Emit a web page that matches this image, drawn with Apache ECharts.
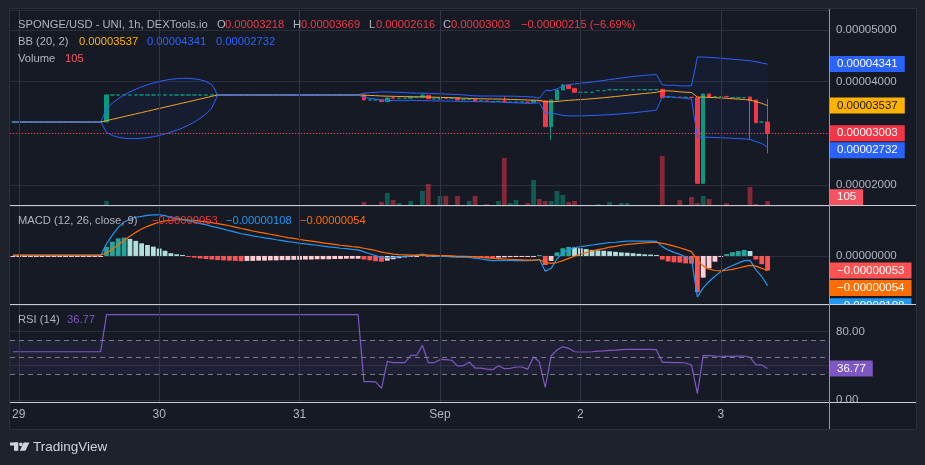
<!DOCTYPE html>
<html>
<head>
<meta charset="utf-8">
<title>SPONGE/USD 1h</title>
<script src="https://cdn.jsdelivr.net/npm/echarts@6/dist/echarts.min.js"></script>
<style>
  html, body { margin: 0; padding: 0; background: #1e222d; }
  #chart { width: 925px; height: 465px; }
</style>
</head>
<body>
<div id="chart"></div>
<script>
// prices, bands and MACD values are in units of 1e-8 USD (3003 = 0.00003003)
// one slot per hour, slot 0 = 28 Aug 23:00, last candle = 3 Sep 08:00
const hours = Array.from({ length: 140 }, (_, i) => 'h' + i);
const dayIndex = [1, 25, 49, 73, 97, 121];
const dayLabels = ['29', '30', '31', 'Sep', '2', '3'];

const open = [
  3220, 3220, 3220, 3220, 3220, 3220, 3220, 3220, 3220, 3220,
  3220, 3220, 3220, 3220, 3220, 3220, 3220, 3743, 3743, 3743,
  3743, 3743, 3743, 3743, 3743, 3743, 3743, 3743, 3743, 3743,
  3743, 3743, 3743, 3743, 3743, 3743, 3743, 3743, 3743, 3743,
  3743, 3743, 3743, 3743, 3743, 3743, 3743, 3743, 3743, 3743,
  3743, 3743, 3743, 3743, 3743, 3743, 3743, 3743, 3743, 3743,
  3743, 3646, 3646, 3650, 3613, 3685, 3678, 3678, 3680, 3700,
  3700, 3735, 3668, 3660, 3690, 3680, 3685, 3650, 3655, 3660,
  3628, 3628, 3610, 3620, 3625, 3605, 3605, 3605, 3605, 3600,
  3640, 3630, 3129, 3646, 3839, 3936, 3870, 3795, 3795, 3795,
  3826, 3826, 3845, 3845, 3845, 3845, 3845, 3845, 3845, 3845,
  3845, 3853, 3698, 3698, 3699, 3698, 3699, 3690, 2033, 3762,
  3710, 3710, 3715, 3688, 3690, 3690, 3704, 3646, 3218, 3218
];
const high = [
  3220, 3220, 3220, 3220, 3220, 3220, 3220, 3220, 3220, 3220,
  3220, 3220, 3220, 3220, 3220, 3220, 3760, 3743, 3743, 3743,
  3743, 3743, 3743, 3743, 3743, 3743, 3743, 3743, 3743, 3743,
  3743, 3743, 3743, 3743, 3743, 3743, 3743, 3743, 3743, 3743,
  3743, 3743, 3743, 3743, 3743, 3743, 3743, 3743, 3743, 3743,
  3743, 3743, 3743, 3743, 3743, 3743, 3743, 3743, 3743, 3743,
  3743, 3646, 3646, 3650, 3690, 3710, 3678, 3678, 3729, 3700,
  3781, 3735, 3668, 3690, 3700, 3680, 3685, 3650, 3655, 3660,
  3628, 3628, 3612, 3620, 3720, 3605, 3605, 3605, 3605, 3640,
  3640, 3630, 3646, 3839, 3955, 3936, 3870, 3795, 3795, 3795,
  3826, 3826, 3845, 3845, 3845, 3845, 3845, 3845, 3845, 3845,
  3845, 3853, 3698, 3698, 3699, 3698, 3699, 3690, 3762, 3762,
  3710, 3710, 3715, 3690, 3690, 3690, 3704, 3646, 3218, 3669
];
const low = [
  3220, 3220, 3220, 3220, 3220, 3220, 3220, 3220, 3220, 3220,
  3220, 3220, 3220, 3220, 3220, 3220, 3220, 3743, 3743, 3743,
  3743, 3743, 3743, 3743, 3743, 3743, 3743, 3743, 3743, 3743,
  3743, 3743, 3743, 3743, 3743, 3743, 3743, 3743, 3743, 3743,
  3743, 3743, 3743, 3743, 3743, 3743, 3743, 3743, 3743, 3743,
  3743, 3743, 3743, 3743, 3743, 3743, 3743, 3743, 3743, 3743,
  3646, 3646, 3646, 3613, 3613, 3678, 3678, 3678, 3680, 3700,
  3700, 3668, 3668, 3660, 3680, 3680, 3645, 3650, 3655, 3620,
  3628, 3620, 3610, 3620, 3605, 3605, 3605, 3605, 3600, 3600,
  3630, 3129, 2870, 3646, 3839, 3865, 3795, 3795, 3795, 3795,
  3826, 3826, 3845, 3845, 3845, 3845, 3845, 3845, 3845, 3845,
  3845, 3690, 3698, 3698, 3697, 3698, 3690, 2033, 2033, 3704,
  3710, 3710, 3705, 3688, 3690, 3690, 2885, 3206, 3218, 2616
];
const close = [
  3220, 3220, 3220, 3220, 3220, 3220, 3220, 3220, 3220, 3220,
  3220, 3220, 3220, 3220, 3220, 3220, 3743, 3743, 3743, 3743,
  3743, 3743, 3743, 3743, 3743, 3743, 3743, 3743, 3743, 3743,
  3743, 3743, 3743, 3743, 3743, 3743, 3743, 3743, 3743, 3743,
  3743, 3743, 3743, 3743, 3743, 3743, 3743, 3743, 3743, 3743,
  3743, 3743, 3743, 3743, 3743, 3743, 3743, 3743, 3743, 3743,
  3646, 3646, 3646, 3613, 3684, 3678, 3678, 3678, 3700, 3700,
  3735, 3668, 3668, 3690, 3680, 3680, 3645, 3650, 3655, 3620,
  3628, 3620, 3612, 3620, 3605, 3605, 3605, 3605, 3600, 3640,
  3630, 3129, 3646, 3839, 3936, 3865, 3795, 3795, 3795, 3795,
  3826, 3826, 3845, 3845, 3845, 3845, 3845, 3845, 3845, 3845,
  3845, 3690, 3698, 3698, 3697, 3698, 3690, 2033, 3762, 3704,
  3710, 3710, 3705, 3690, 3690, 3690, 3632, 3206, 3218, 3003
];
const volume = [
  0, 0, 0, 0, 0, 0, 0, 0, 0, 0,
  0, 0, 0, 0, 0, 0, 105, 0, 0, 0,
  0, 0, 0, 0, 0, 0, 0, 0, 0, 0,
  0, 0, 0, 0, 0, 0, 0, 0, 0, 0,
  0, 0, 0, 0, 0, 0, 0, 0, 0, 0,
  0, 0, 0, 0, 0, 0, 0, 0, 0, 0,
  78, 0, 0, 78, 314, 130, 52, 0, 105, 0,
  366, 549, 0, 235, 235, 0, 235, 0, 105, 235,
  0, 26, 0, 105, 1229, 52, 130, 0, 52, 654,
  157, 105, 105, 366, 262, 78, 105, 0, 0, 0,
  26, 0, 78, 0, 52, 52, 0, 0, 0, 0,
  0, 1281, 0, 0, 130, 0, 209, 52, 235, 157,
  0, 0, 52, 0, 0, 0, 471, 26, 0, 105
];

// Bollinger Bands (20, 2)
const bbUpper = [
  3220, 3220, 3220, 3220, 3220, 3220, 3220, 3220, 3220, 3220,
  3220, 3220, 3220, 3220, 3220, 3220, 3474, 3586, 3672, 3743,
  3804, 3856, 3902, 3941, 3975, 4005, 4028, 4046, 4059, 4065,
  4065, 4056, 4038, 4005, 3945, 3743, 3743, 3743, 3743, 3743,
  3743, 3743, 3743, 3743, 3743, 3743, 3743, 3743, 3743, 3743,
  3743, 3743, 3743, 3743, 3743, 3743, 3743, 3743, 3743, 3743,
  3780, 3788, 3793, 3803, 3802, 3799, 3794, 3789, 3783, 3779,
  3778, 3775, 3771, 3766, 3761, 3756, 3751, 3746, 3734, 3725,
  3723, 3723, 3723, 3721, 3721, 3719, 3718, 3714, 3709, 3702,
  3681, 3832, 3829, 3861, 3914, 3942, 3957, 3970, 3981, 3994,
  4010, 4024, 4042, 4057, 4073, 4087, 4101, 4113, 4123, 4131,
  4138, 3940, 3929, 3934, 3920, 3917, 3919, 4479, 4477, 4471,
  4463, 4455, 4446, 4436, 4427, 4417, 4407, 4387, 4362, 4341
];
const bbBasis = [
  3220, 3220, 3220, 3220, 3220, 3220, 3220, 3220, 3220, 3220,
  3220, 3220, 3220, 3220, 3220, 3220, 3246, 3272, 3298, 3325,
  3351, 3377, 3403, 3429, 3455, 3482, 3508, 3534, 3560, 3586,
  3612, 3638, 3665, 3691, 3717, 3743, 3743, 3743, 3743, 3743,
  3743, 3743, 3743, 3743, 3743, 3743, 3743, 3743, 3743, 3743,
  3743, 3743, 3743, 3743, 3743, 3743, 3743, 3743, 3743, 3743,
  3738, 3734, 3730, 3723, 3720, 3717, 3714, 3711, 3709, 3707,
  3706, 3703, 3699, 3696, 3693, 3690, 3685, 3680, 3676, 3670,
  3669, 3667, 3665, 3665, 3661, 3657, 3654, 3650, 3645, 3642,
  3637, 3610, 3609, 3617, 3630, 3639, 3647, 3654, 3661, 3670,
  3680, 3690, 3702, 3713, 3725, 3737, 3749, 3761, 3773, 3783,
  3794, 3821, 3823, 3816, 3804, 3796, 3791, 3703, 3701, 3697,
  3691, 3685, 3678, 3670, 3663, 3655, 3645, 3613, 3582, 3537
];
const bbLower = [
  3220, 3220, 3220, 3220, 3220, 3220, 3220, 3220, 3220, 3220,
  3220, 3220, 3220, 3220, 3220, 3220, 3018, 2958, 2925, 2906,
  2898, 2898, 2904, 2917, 2935, 2959, 2988, 3022, 3061, 3106,
  3159, 3220, 3291, 3377, 3489, 3743, 3743, 3743, 3743, 3743,
  3743, 3743, 3743, 3743, 3743, 3743, 3743, 3743, 3743, 3743,
  3743, 3743, 3743, 3743, 3743, 3743, 3743, 3743, 3743, 3743,
  3696, 3680, 3667, 3643, 3638, 3635, 3634, 3633, 3635, 3635,
  3634, 3631, 3627, 3626, 3625, 3624, 3619, 3614, 3618, 3615,
  3615, 3611, 3607, 3609, 3601, 3595, 3590, 3586, 3581, 3582,
  3593, 3388, 3389, 3373, 3346, 3336, 3337, 3338, 3341, 3346,
  3350, 3356, 3362, 3369, 3377, 3387, 3397, 3409, 3423, 3435,
  3450, 3702, 3718, 3698, 3688, 3675, 3663, 2927, 2925, 2923,
  2919, 2915, 2910, 2904, 2899, 2893, 2883, 2839, 2802, 2732
];

// MACD (12, 26, close, 9)
const macdLine = [
  2, 2, 2, 2, 2, 2, 2, 2, 2, 2,
  2, 2, 2, 2, 2, 2, 44, 76, 104, 124,
  134, 141, 144, 148, 150, 150, 147, 140, 138, 133,
  128, 124, 118, 114, 108, 103, 98, 92, 87, 81,
  78, 73, 70, 66, 63, 59, 56, 52, 50, 46,
  44, 41, 39, 36, 33, 31, 28, 27, 24, 22,
  15, 8, 1, -6, -7, -5, -3, -1, 0, 2,
  7, 0, -1, -2, -2, -3, -4, -4, -5, -8,
  -11, -14, -17, -16, -16, -16, -17, -17, -17, -16,
  -12, -56, -45, -11, 11, 24, 30, 34, 37, 40,
  43, 46, 49, 50, 52, 54, 54, 54, 54, 54,
  53, 34, 22, 13, 6, -4, -12, -149, -116, -93,
  -74, -57, -45, -35, -26, -17, -16, -50, -75, -108
];
const signalLine = [
  3, 3, 3, 3, 3, 3, 3, 3, 3, 3,
  3, 3, 3, 3, 3, 3, 11, 24, 40, 57,
  72, 86, 98, 108, 116, 123, 128, 130, 132, 132,
  131, 130, 127, 125, 121, 118, 114, 110, 105, 100,
  96, 91, 87, 83, 79, 75, 71, 67, 64, 60,
  57, 54, 51, 48, 45, 42, 39, 37, 34, 32,
  28, 24, 20, 14, 10, 7, 5, 4, 3, 3,
  4, 3, 2, 1, 1, 0, -1, -1, -2, -3,
  -5, -7, -9, -10, -11, -12, -13, -14, -15, -15,
  -14, -23, -27, -24, -17, -9, -1, 6, 12, 18,
  23, 27, 32, 35, 39, 42, 44, 46, 48, 49,
  50, 46, 41, 36, 30, 23, 16, -17, -37, -48,
  -53, -54, -52, -49, -44, -39, -34, -37, -45, -54
];
const macdHist = [
  -1, -1, -1, -1, -1, -1, -1, -1, -1, -1,
  -1, -1, -1, -1, -1, -1, 33, 52, 64, 67,
  62, 55, 46, 40, 34, 27, 19, 10, 6, 1,
  -3, -6, -9, -11, -13, -15, -16, -17, -18, -19,
  -18, -18, -17, -17, -16, -16, -15, -15, -14, -14,
  -13, -13, -12, -12, -12, -11, -11, -10, -10, -10,
  -13, -16, -19, -21, -17, -12, -8, -5, -3, -1,
  3, -3, -3, -3, -3, -3, -3, -3, -3, -5,
  -6, -7, -8, -6, -5, -4, -4, -3, -2, -1,
  2, -33, -18, 13, 28, 33, 31, 28, 25, 22,
  20, 19, 17, 15, 13, 12, 10, 8, 6, 5,
  3, -13, -20, -23, -24, -27, -28, -132, -79, -45,
  -21, -3, 7, 14, 18, 22, 18, -13, -30, -53
];

// RSI (14)
const rsi = [
  56.3, 56.3, 56.3, 56.3, 56.3, 56.3, 56.3, 56.3, 56.3, 56.3,
  56.3, 56.3, 56.3, 56.3, 56.3, 56.3, 99.6, 99.6, 99.6, 99.6,
  99.6, 99.6, 99.6, 99.6, 99.6, 99.6, 99.6, 99.6, 99.6, 99.6,
  99.6, 99.6, 99.6, 99.6, 99.6, 99.6, 99.6, 99.6, 99.6, 99.6,
  99.6, 99.6, 99.6, 99.6, 99.6, 99.6, 99.6, 99.6, 99.6, 99.6,
  99.6, 99.6, 99.6, 99.6, 99.6, 99.6, 99.6, 99.6, 99.6, 99.6,
  21.4, 21.4, 21.2, 13.6, 45, 43.5, 43.5, 43.5, 52, 52,
  63.7, 43.5, 43.5, 47, 47, 46.4, 39.6, 40, 44.3, 37.3,
  37.3, 36, 35.4, 40, 36.5, 37, 38.5, 38.5, 36, 50.5,
  44.3, 14.8, 51.3, 58.3, 62.2, 60.3, 56.3, 56, 56, 56.3,
  57, 57.4, 58, 58.3, 58.7, 59, 59, 59, 59, 59,
  58.7, 44, 44, 43.7, 43.5, 43.2, 40.8, 7.8, 51.7, 51.7,
  51.3, 51, 51, 51, 51.3, 51.3, 49.8, 41.2, 40.8, 36.77
];

const priceLabels = [2000, 4000, 5000]; // 0.00003000 sits under the last-price tag
const rsiLabels = [0, 80];
const rsiLevels = [70, 50, 30];

const FONT = '"Liberation Sans", Arial, sans-serif';
const GRAY = '#b2b5be';
const GRID = '#2a2e39';
const UP = '#089981';
const DOWN = '#f23645';
const BG = '#161a25';
const FRAME = '#1e222d';

const candles = open.map((o, i) => [o, close[i], low[i], high[i]]);
const volBars = volume.map((v, i) => ({
  value: v,
  itemStyle: { color: close[i] >= open[i] ? 'rgba(8,153,129,0.5)' : 'rgba(242,54,69,0.5)' },
}));
const bbWidth = bbUpper.map((u, i) => u - bbLower[i]);
const histBars = macdHist.map((h, i) => {
  const prev = i > 0 ? macdHist[i - 1] : h;
  let color;
  if (h >= 0) color = h > prev ? '#26a69a' : '#b2dfdb';
  else color = h < prev ? '#ff5252' : '#ffcdd2';
  return { value: h, itemStyle: { color } };
});

const fmtPrice = (v) => (v / 1e8).toFixed(8);

// vertical day grid lines on the category centres (a bit lighter: they land between pixels)
const dayLines = () => dayIndex.map((i) => ({
  xAxis: i,
  lineStyle: { color: '#333745', width: 1, type: 'solid' },
  label: { show: false },
}));

// coloured value tag on the price scale; shift moves it down (+) or up (-) like TV stacking
function tag(value, text, bg, fg, shift) {
  shift = shift || 0;
  return {
    yAxis: value,
    lineStyle: { color: 'rgba(0,0,0,0)', width: 0 },
    label: {
      show: true,
      position: 'end',
      distance: 1,
      formatter: '{t|' + text + '}',
      padding: shift > 0 ? [shift * 2, 0, 0, 0] : [0, 0, -shift * 2, 0],
      rich: {
        t: {
          color: fg,
          backgroundColor: bg,
          padding: [2, 7, 2, 7],
          fontSize: 11.5,
          lineHeight: 12,
          fontFamily: FONT,
        },
      },
    },
  };
}

function xAxis(gridIndex, showLabel) {
  return {
    type: 'category',
    gridIndex,
    data: hours,
    boundaryGap: true,
    axisLine: { show: false },
    axisTick: { show: false },
    axisLabel: {
      show: showLabel,
      interval: (i) => dayIndex.includes(i),
      formatter: (v, i) => dayLabels[dayIndex.indexOf(i)] || '',
      color: GRAY,
      fontSize: 12,
      fontFamily: FONT,
      margin: 7,
    },
    splitLine: { show: false },
  };
}

function yLabel(formatter) {
  return { color: GRAY, fontSize: 11.5, fontFamily: FONT, margin: 7, formatter };
}

function txt(x, y, text, color, size) {
  return {
    type: 'text', x, y, z: 100, silent: true,
    style: { text, fill: color, fontSize: size || 11.2, fontFamily: FONT, verticalAlign: 'middle' },
  };
}

function rect(x, y, w, h, fill, z) {
  return { type: 'rect', z: z || 100, silent: true, shape: { x, y, width: w, height: h }, style: { fill } };
}

function hline(y, x1, x2, color) {
  return { type: 'line', z: 101, silent: true, shape: { x1, y1: y, x2, y2: y }, style: { stroke: color, lineWidth: 1 } };
}

const chart = echarts.init(document.getElementById('chart'));

const option = {
  animation: false,
  backgroundColor: BG,
  grid: [
    { left: 10, right: 96, top: 10, height: 195, outerBoundsMode: 'none' },
    { left: 10, right: 96, top: 206, height: 98, outerBoundsMode: 'none' },
    { left: 10, right: 96, top: 305, height: 97, outerBoundsMode: 'none' },
  ],
  xAxis: [xAxis(0, false), xAxis(1, false), xAxis(2, true)],
  yAxis: [
    {
      type: 'value', gridIndex: 0, position: 'right',
      min: 1613, max: 5388, minInterval: 1000, maxInterval: 1000,
      axisLine: { show: false }, axisTick: { show: false },
      axisLabel: yLabel((v) => (priceLabels.includes(v) ? fmtPrice(v) : '')),
      splitLine: { lineStyle: { color: GRID } },
    },
    {
      type: 'value', gridIndex: 0, min: 0, max: 5100, show: false,
      splitLine: { show: false },
    },
    {
      type: 'value', gridIndex: 1, position: 'right',
      min: -175, max: 182, minInterval: 200, maxInterval: 200,
      axisLine: { show: false }, axisTick: { show: false },
      axisLabel: yLabel((v) => (v === 0 ? '0.00000000' : '')),
      splitLine: { lineStyle: { color: GRID } },
    },
    {
      type: 'value', gridIndex: 2, position: 'right',
      min: -2.3, max: 110.8, minInterval: 40, maxInterval: 40,
      axisLine: { show: false }, axisTick: { show: false },
      axisLabel: yLabel((v) => (rsiLabels.includes(v) ? v.toFixed(2) : '')),
      splitLine: { lineStyle: { color: GRID } },
    },
  ],
  series: [
    {
      name: 'Volume', type: 'bar', xAxisIndex: 0, yAxisIndex: 1, z: 1,
      data: volBars, barWidth: '82%', silent: true,
      markLine: { symbol: 'none', silent: true, data: dayLines().concat([tag(105, '105', '#f7525f', '#ffffff', -3.8)]) },
    },
    {
      name: 'bbBase', type: 'line', xAxisIndex: 0, yAxisIndex: 0, z: 1,
      stack: 'bb', data: bbLower, symbol: 'none', silent: true,
      lineStyle: { opacity: 0 },
    },
    {
      name: 'bbFill', type: 'line', xAxisIndex: 0, yAxisIndex: 0, z: 1,
      stack: 'bb', data: bbWidth, symbol: 'none', silent: true,
      lineStyle: { opacity: 0 },
      areaStyle: { color: 'rgba(41,98,255,0.07)' },
    },
    {
      name: 'SPONGE/USD', type: 'candlestick', xAxisIndex: 0, yAxisIndex: 0, z: 2,
      data: candles, barWidth: 4,
      itemStyle: { color: UP, color0: DOWN, borderColor: UP, borderColor0: DOWN, borderWidth: 1 },
      markLine: {
        symbol: 'none', silent: true,
        data: [
          {
            yAxis: 3003,
            lineStyle: { color: DOWN, type: [1, 2], width: 1 },
            label: {
              show: true, position: 'end', distance: 1, formatter: '{t|' + fmtPrice(3003) + '}',
              rich: { t: { color: '#ffffff', backgroundColor: DOWN, padding: [2, 7, 2, 7], fontSize: 11.5, lineHeight: 12, fontFamily: FONT } },
            },
          },
        ],
      },
    },
    {
      name: 'BB upper', type: 'line', xAxisIndex: 0, yAxisIndex: 0, z: 3,
      data: bbUpper, symbol: 'none', silent: true,
      lineStyle: { color: '#2962ff', width: 1 },
      markLine: { symbol: 'none', silent: true, data: [tag(4341, fmtPrice(4341), '#2962ff', '#ffffff')] },
    },
    {
      name: 'BB basis', type: 'line', xAxisIndex: 0, yAxisIndex: 0, z: 3,
      data: bbBasis, symbol: 'none', silent: true,
      lineStyle: { color: '#f5a623', width: 1 },
      markLine: { symbol: 'none', silent: true, data: [tag(3537, fmtPrice(3537), '#ffb300', '#131722')] },
    },
    {
      name: 'BB lower', type: 'line', xAxisIndex: 0, yAxisIndex: 0, z: 3,
      data: bbLower, symbol: 'none', silent: true,
      lineStyle: { color: '#2962ff', width: 1 },
      markLine: { symbol: 'none', silent: true, data: [tag(2732, fmtPrice(2732), '#2962ff', '#ffffff', 3.1)] },
    },
    {
      name: 'Histogram', type: 'bar', xAxisIndex: 1, yAxisIndex: 2, z: 2,
      data: histBars, barWidth: '82%', barMinHeight: 1, silent: true,
      markLine: { symbol: 'none', silent: true, data: dayLines().concat([tag(-53, '\u22120.00000053', '#ff5252', '#ffffff')]) },
    },
    {
      name: 'MACD', type: 'line', xAxisIndex: 1, yAxisIndex: 2, z: 3,
      data: macdLine, symbol: 'none', silent: true,
      lineStyle: { color: '#2196f3', width: 1.2 },
      markLine: { symbol: 'none', silent: true, data: [tag(-108, '\u22120.00000108', '#2196f3', '#ffffff', 20.7)] },
    },
    {
      name: 'Signal', type: 'line', xAxisIndex: 1, yAxisIndex: 2, z: 3,
      data: signalLine, symbol: 'none', silent: true,
      lineStyle: { color: '#ff6d00', width: 1.2 },
      markLine: { symbol: 'none', silent: true, data: [tag(-54, '\u22120.00000054', '#ff6d00', '#ffffff', 17.2)] },
    },
    {
      name: 'RSI', type: 'line', xAxisIndex: 2, yAxisIndex: 3, z: 3,
      data: rsi, symbol: 'none', silent: true,
      lineStyle: { color: '#7e57c2', width: 1.2 },
      markArea: {
        silent: true,
        itemStyle: { color: 'rgba(126,87,194,0.1)' },
        data: [[{ yAxis: rsiLevels[2] }, { yAxis: rsiLevels[0] }]],
      },
      markLine: {
        symbol: 'none', silent: true,
        data: dayLines()
          .concat(rsiLevels.map((lv) => ({ yAxis: lv, lineStyle: { color: '#787b86', type: [5, 4], width: 1 }, label: { show: false } })))
          .concat([tag(36.77, '36.77', '#7e57c2', '#ffffff')]),
      },
    },
  ],
  graphic: [
    // outer frame around the chart area
    rect(0, 0, 925, 9, FRAME),
    rect(0, 0, 10, 465, FRAME),
    rect(916, 0, 9, 465, FRAME),
    rect(0, 429, 925, 36, FRAME),
    // clip tags that would spill past their pane on the price scale
    rect(830, 305, 86, 19, BG, 90),
    rect(830, 403, 86, 10, BG, 90),
    // pane separators and price scale border
    hline(205.5, 10, 916, '#c9ccd3'),
    hline(304.5, 10, 916, '#c9ccd3'),
    hline(402.5, 10, 916, '#c9ccd3'),
    { type: 'line', z: 101, silent: true, shape: { x1: 829.5, y1: 9, x2: 829.5, y2: 429 }, style: { stroke: '#9598a1', lineWidth: 1 } },
    { type: 'rect', z: 101, silent: true, shape: { x: 9.5, y: 8.5, width: 907, height: 421 }, style: { fill: null, stroke: '#2a2e39', lineWidth: 1 } },

    // legends
    txt(18, 24.5, 'SPONGE/USD - UNI, 1h, DEXTools.io', GRAY),
    txt(217, 24.5, 'O', GRAY),
    txt(225, 24.5, '0.00003218', DOWN),
    txt(293, 24.5, 'H', GRAY),
    txt(301, 24.5, '0.00003669', DOWN),
    txt(369, 24.5, 'L', GRAY),
    txt(376, 24.5, '0.00002616', DOWN),
    txt(443, 24.5, 'C', GRAY),
    txt(451, 24.5, '0.00003003', DOWN),
    txt(521, 24.5, '\u22120.00000215 (\u22126.69%)', DOWN),
    txt(18, 42.3, 'BB (20, 2)', GRAY),
    txt(79, 42.3, '0.00003537', '#ffb300'),
    txt(147, 42.3, '0.00004341', '#2962ff'),
    txt(216, 42.3, '0.00002732', '#2962ff'),
    txt(18, 59.3, 'Volume', GRAY),
    txt(65, 59.3, '105', '#f7525f'),
    txt(18, 220.7, 'MACD (12, 26, close, 9)', GRAY),
    txt(152, 220.7, '\u22120.00000053', DOWN),
    txt(226, 220.7, '\u22120.00000108', '#2196f3'),
    txt(300, 220.7, '\u22120.00000054', '#ff6d00'),
    txt(18, 320, 'RSI (14)', GRAY),
    txt(67, 320, '36.77', '#7e57c2'),

    // TradingView mark
    rect(10, 442.5, 8, 3, '#d1d4dc', 102),
    rect(14, 442.5, 4.3, 8.3, '#d1d4dc', 102),
    { type: 'circle', z: 102, silent: true, shape: { cx: 20.8, cy: 444.4, r: 1.8 }, style: { fill: '#d1d4dc' } },
    { type: 'polygon', z: 102, silent: true, shape: { points: [[23.6, 442.5], [29.4, 442.5], [25.4, 450.8], [19.8, 450.8]] }, style: { fill: '#d1d4dc' } },
    txt(33, 447, 'TradingView', '#d1d4dc', 13.5),
  ],
};

chart.setOption(option);
</script>
</body>
</html>
